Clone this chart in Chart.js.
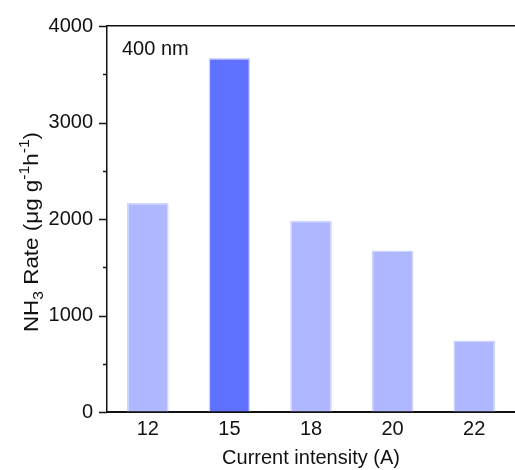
<!DOCTYPE html>
<html lang="en">
<head>
    <meta charset="UTF-8">
    <title>NH3 Rate vs Current intensity</title>
    <script src="https://cdn.jsdelivr.net/npm/chart.js"></script>
    <style>
        body { margin: 0; background: #fff; }
        .chart-box { width: 515px; height: 470px; }
    </style>
</head>
<body>
    <div class="chart-box">
        <canvas id="rateChart"></canvas>
    </div>

    <script>
        // Values per current setting
        const currents = ['12', '15', '18', '20', '22'];
        const nh3Rates = [2166, 3668, 1983, 1673, 742];
        const highlighted = '15';
        const yTicks = [0, 1000, 2000, 3000, 4000];

        const FONT = '"Liberation Sans", Arial, sans-serif';
        const lightBar = 'rgb(175, 184, 255)';
        const darkBar = 'rgb(96, 112, 255)';

        // Minor/major tick marks on the left axis, drawn outside the plot
        const yTickMarks = {
            id: 'yTickMarks',
            afterDraw(chart) {
                const y = chart.scales.y;
                const left = chart.chartArea.left;
                const ctx = chart.ctx;
                ctx.save();
                ctx.strokeStyle = '#111';
                ctx.lineWidth = 1.5;
                for (let v = 0; v <= 4000; v += 500) {
                    const py = Math.round(y.getPixelForValue(v)) + 0.5;
                    const len = yTicks.includes(v) ? 8 : 4;
                    ctx.beginPath();
                    ctx.moveTo(left - len, py);
                    ctx.lineTo(left, py);
                    ctx.stroke();
                }
                ctx.restore();
            }
        };

        // Y title with sub/superscripts, plus the "400 nm" note
        const labels = {
            id: 'labels',
            afterDraw(chart) {
                const ctx = chart.ctx;
                const area = chart.chartArea;
                ctx.save();
                ctx.fillStyle = '#111';
                ctx.textBaseline = 'alphabetic';

                ctx.font = '20px ' + FONT;
                ctx.textAlign = 'left';
                ctx.fillText('400 nm', area.left + 15, 55);

                const parts = [
                    { t: 'NH', size: 20, dy: 0 },
                    { t: '3', size: 14, dy: 5 },
                    { t: ' Rate (\u03BCg g', size: 20, dy: 0 },
                    { t: '-1', size: 14, dy: -9 },
                    { t: 'h', size: 20, dy: 0 },
                    { t: '-1', size: 14, dy: -9 },
                    { t: ')', size: 20, dy: 0 }
                ];
                let total = 0;
                parts.forEach(p => {
                    ctx.font = p.size + 'px ' + FONT;
                    p.w = ctx.measureText(p.t).width;
                    total += p.w;
                });
                ctx.translate(38, 232);
                ctx.rotate(-Math.PI / 2);
                ctx.scale(1.12, 1);
                let x = -total / 2;
                parts.forEach(p => {
                    ctx.font = p.size + 'px ' + FONT;
                    ctx.fillText(p.t, x, p.dy);
                    x += p.w;
                });
                ctx.restore();
            }
        };

        new Chart(document.getElementById('rateChart'), {
            type: 'bar',
            data: {
                labels: currents,
                datasets: [{
                    data: nh3Rates,
                    backgroundColor: currents.map(c => c === highlighted ? darkBar : lightBar),
                    borderColor: 'rgb(208, 213, 255)',
                    borderWidth: 1.5,
                    barPercentage: 0.51,
                    categoryPercentage: 1
                }]
            },
            options: {
                responsive: true,
                maintainAspectRatio: false,
                animation: false,
                layout: { padding: { top: 25, right: 0, left: 0, bottom: 0 } },
                plugins: {
                    legend: { display: false },
                    tooltip: { enabled: false }
                },
                scales: {
                    x: {
                        grid: { drawOnChartArea: false, drawTicks: false },
                        border: { color: '#111', width: 2 },
                        ticks: {
                            color: '#111',
                            font: { family: FONT, size: 20 },
                            padding: 5
                        },
                        title: {
                            display: true,
                            text: 'Current intensity (A)',
                            color: '#111',
                            font: { family: FONT, size: 20 },
                            padding: { top: 2, bottom: 0 }
                        },
                        afterFit(scale) { scale.height = 58; }
                    },
                    x2: {
                        type: 'category',
                        position: 'top',
                        grid: { drawOnChartArea: false, drawTicks: false },
                        border: { color: '#111', width: 1.5 },
                        ticks: { display: false },
                        afterFit(scale) { scale.height = 0; }
                    },
                    y: {
                        min: 0,
                        max: 4000,
                        grid: { drawOnChartArea: false, drawTicks: false },
                        border: { color: '#111', width: 1.5 },
                        ticks: {
                            stepSize: 500,
                            autoSkip: false,
                            color: '#111',
                            padding: 14,
                            font: { family: FONT, size: 20 },
                            callback: v => yTicks.includes(v) ? v : ''
                        },
                        afterFit(scale) { scale.width = 107; }
                    }
                }
            },
            plugins: [yTickMarks, labels]
        });
    </script>
</body>
</html>
